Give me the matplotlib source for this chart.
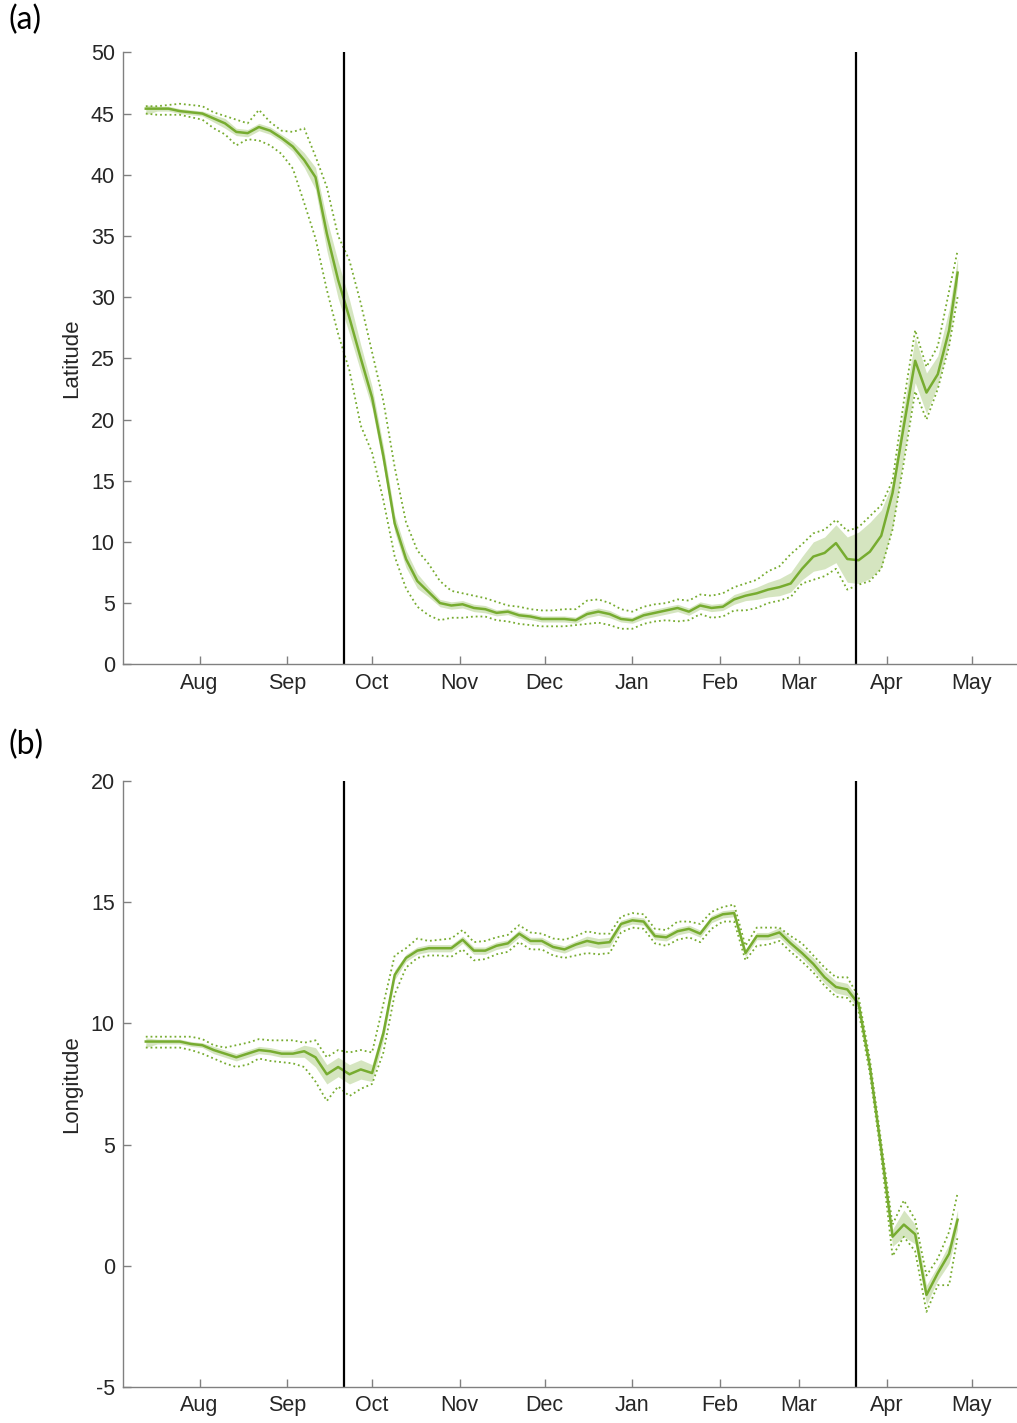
import numpy as np
import matplotlib
matplotlib.use("Agg")
import matplotlib.pyplot as plt
import matplotlib.dates as mdates

plt.rcParams['font.family'] = ['Liberation Sans', 'DejaVu Sans']
plt.rcParams['axes.unicode_minus'] = False

# days counted from 5 Jul 2017
days = [8, 12, 16, 20, 24, 28, 32, 36, 40, 44, 48, 52, 56, 60, 64, 68, 72, 76,
        80, 84, 88, 92, 96, 100, 104, 108, 112, 116, 120, 124, 128, 132, 136,
        140, 144, 148, 152, 156, 160, 164, 168, 172, 176, 180, 184, 188, 192,
        196, 200, 204, 208, 212, 216, 220, 224, 228, 232, 236, 240, 244, 248,
        252, 256, 260, 264, 268, 272, 276, 280, 284, 288, 292, 295]

# (a) latitude
lat_mean = [45.4, 45.4, 45.4, 45.2, 45.1, 45.0, 44.6, 44.2, 43.5, 43.4, 43.9, 43.6,
            43.0, 42.3, 41.2, 39.8, 35.2, 31.4, 28.3, 25.0, 21.8, 17.0, 11.5, 8.6,
            6.8, 5.9, 5.0, 4.8, 4.9, 4.6, 4.5, 4.2, 4.3, 4.0, 3.9, 3.7, 3.7, 3.7,
            3.6, 4.1, 4.3, 4.1, 3.7, 3.6, 4.0, 4.2, 4.4, 4.6, 4.3, 4.8, 4.6, 4.7,
            5.3, 5.6, 5.8, 6.1, 6.3, 6.6, 7.8, 8.8, 9.1, 9.9, 8.6, 8.5, 9.2, 10.5,
            14.0, 19.5, 24.8, 22.2, 23.7, 27.3, 32.0]
lat_hi = [45.6, 45.6, 45.7, 45.8, 45.7, 45.6, 45.1, 44.8, 44.5, 44.2, 45.3, 44.3,
          43.6, 43.5, 43.8, 41.5, 39.0, 35.0, 33.0, 29.5, 25.5, 21.5, 16.1, 11.6,
          9.3, 8.2, 6.8, 6.0, 5.8, 5.6, 5.4, 5.1, 4.8, 4.7, 4.5, 4.4, 4.4, 4.5,
          4.5, 5.2, 5.3, 5.0, 4.5, 4.3, 4.7, 4.9, 5.0, 5.3, 5.2, 5.7, 5.6, 5.8,
          6.3, 6.6, 6.9, 7.6, 8.0, 9.0, 9.8, 10.7, 11.0, 11.8, 10.9, 11.2, 12.1,
          13.0, 15.0, 21.5, 27.3, 24.3, 26.0, 30.5, 33.8]
lat_lo = [45.0, 44.9, 44.9, 44.9, 44.7, 44.5, 43.8, 43.3, 42.4, 42.9, 42.8, 42.4,
          41.7, 40.5, 37.7, 34.8, 30.6, 27.0, 24.0, 19.5, 17.3, 13.4, 8.8, 6.2,
          4.7, 4.0, 3.6, 3.8, 3.8, 3.9, 3.9, 3.6, 3.5, 3.3, 3.2, 3.1, 3.1, 3.1,
          3.2, 3.3, 3.4, 3.2, 2.9, 2.9, 3.3, 3.5, 3.6, 3.5, 3.6, 4.1, 3.8, 3.9,
          4.4, 4.4, 4.6, 5.0, 5.2, 5.5, 6.6, 6.9, 7.2, 7.8, 6.1, 6.5, 6.8, 7.8,
          11.0, 16.5, 22.3, 20.0, 22.5, 26.0, 30.0]
lat_band_lo = [44.9, 45.2, 45.2, 45.0, 44.9, 44.8, 44.3, 43.8, 43.2, 43.1, 43.6, 43.3,
               42.7, 41.9, 40.6, 38.8, 33.8, 29.9, 27.0, 23.9, 20.9, 16.2, 10.8, 7.9,
               6.2, 5.5, 4.7, 4.5, 4.6, 4.3, 4.2, 3.95, 4.05, 3.75, 3.65, 3.45, 3.45,
               3.45, 3.35, 3.8, 4.0, 3.8, 3.45, 3.35, 3.7, 3.9, 4.1, 4.3, 4.0, 4.5,
               4.3, 4.4, 4.9, 5.2, 5.3, 5.5, 5.6, 5.9, 6.9, 7.6, 7.8, 8.3, 6.7, 6.6,
               7.0, 7.9, 11.2, 17.0, 23.0, 20.5, 22.8, 26.3, 31.0]
lat_band_hi = [45.7, 45.6, 45.6, 45.4, 45.3, 45.2, 44.9, 44.6, 43.8, 43.7, 44.2, 43.9,
               43.3, 42.7, 41.8, 40.6, 36.4, 32.9, 29.8, 26.1, 22.7, 17.8, 12.2, 9.3,
               7.4, 6.3, 5.3, 5.1, 5.2, 4.9, 4.8, 4.45, 4.55, 4.25, 4.15, 3.95, 3.95,
               3.95, 3.85, 4.4, 4.6, 4.4, 3.95, 3.85, 4.3, 4.5, 4.7, 4.9, 4.6, 5.1,
               4.9, 5.0, 5.7, 6.0, 6.3, 6.7, 7.0, 7.5, 8.8, 10.0, 10.4, 11.4, 10.4,
               10.8, 11.6, 12.6, 14.8, 21.0, 26.7, 23.8, 25.2, 29.0, 33.2]

# (b) longitude
lon_mean = [9.25, 9.25, 9.25, 9.25, 9.15, 9.1, 8.9, 8.75, 8.6, 8.75, 8.9, 8.85,
            8.75, 8.75, 8.85, 8.6, 7.9, 8.2, 7.9, 8.1, 7.95, 9.6, 12.0, 12.7,
            13.0, 13.1, 13.1, 13.1, 13.45, 13.0, 13.0, 13.2, 13.3, 13.7, 13.4, 13.4,
            13.15, 13.05, 13.25, 13.4, 13.3, 13.35, 14.1, 14.25, 14.2, 13.6, 13.55,
            13.8, 13.9, 13.7, 14.3, 14.5, 14.55, 12.9, 13.6, 13.6, 13.75, 13.3, 12.9,
            12.45, 11.9, 11.5, 11.4, 10.8, 8.2, 4.8, 1.2, 1.7, 1.3, -1.2, -0.3, 0.5, 1.9]
lon_hi = [9.45, 9.45, 9.45, 9.45, 9.45, 9.35, 9.1, 9.0, 9.1, 9.2, 9.35, 9.3,
          9.3, 9.3, 9.2, 9.3, 8.6, 8.9, 8.8, 8.9, 8.8, 10.8, 12.8, 13.1,
          13.5, 13.4, 13.45, 13.5, 13.85, 13.35, 13.4, 13.55, 13.65, 14.05, 13.75,
          13.7, 13.5, 13.45, 13.6, 13.8, 13.7, 13.7, 14.4, 14.55, 14.5, 13.9, 13.85,
          14.2, 14.2, 14.1, 14.6, 14.8, 14.9, 13.2, 13.95, 13.95, 13.95, 13.6, 13.3,
          12.8, 12.3, 11.9, 11.9, 11.1, 8.5, 5.1, 1.7, 2.7, 1.9, -0.4, 0.3, 1.4, 3.0]
lon_lo = [9.0, 9.0, 9.0, 9.0, 8.9, 8.75, 8.55, 8.35, 8.2, 8.3, 8.55, 8.45,
          8.4, 8.35, 8.2, 7.6, 6.8, 7.4, 7.0, 7.3, 7.5, 8.8, 11.2, 12.3,
          12.7, 12.8, 12.8, 12.75, 13.05, 12.6, 12.65, 12.85, 12.95, 13.35, 13.05,
          13.05, 12.8, 12.7, 12.8, 12.9, 12.85, 12.9, 13.75, 13.95, 13.9, 13.3, 13.2,
          13.45, 13.55, 13.35, 13.9, 14.2, 14.2, 12.6, 13.2, 13.25, 13.4, 12.95, 12.55,
          12.1, 11.55, 11.1, 11.05, 10.5, 7.9, 4.5, 0.4, 1.2, 0.6, -1.9, -0.8, -0.8, 1.2]
lon_band_lo = [9.0, 9.15, 9.15, 9.15, 9.05, 9.0, 8.75, 8.6, 8.45, 8.6, 8.75, 8.7,
               8.6, 8.6, 8.6, 8.2, 7.5, 7.8, 7.5, 7.7, 7.6, 9.3, 11.8, 12.55,
               12.85, 12.95, 12.95, 12.95, 13.3, 12.85, 12.85, 13.05, 13.15, 13.55,
               13.25, 13.25, 13.0, 12.9, 13.1, 13.2, 13.1, 13.15, 13.95, 14.1, 14.05,
               13.45, 13.4, 13.65, 13.75, 13.55, 14.15, 14.35, 14.4, 12.75, 13.45,
               13.45, 13.55, 13.1, 12.7, 12.2, 11.65, 11.25, 11.15, 10.6, 8.05, 4.65,
               0.8, 1.2, 0.9, -1.6, -0.6, 0.1, 1.5]
lon_band_hi = [9.4, 9.35, 9.35, 9.35, 9.25, 9.2, 9.05, 8.9, 8.75, 8.9, 9.05, 9.0,
               8.9, 8.9, 9.1, 9.0, 8.3, 8.6, 8.3, 8.5, 8.3, 9.9, 12.2, 12.85,
               13.15, 13.25, 13.25, 13.25, 13.6, 13.15, 13.15, 13.35, 13.45, 13.85,
               13.55, 13.55, 13.3, 13.2, 13.4, 13.6, 13.5, 13.55, 14.25, 14.4, 14.35,
               13.75, 13.7, 13.95, 14.05, 13.85, 14.45, 14.65, 14.7, 13.05, 13.75,
               13.75, 13.95, 13.5, 13.1, 12.7, 12.15, 11.75, 11.65, 11.0, 8.35, 4.95,
               1.5, 2.3, 1.7, -0.8, 0.0, 0.9, 2.3]

start = np.datetime64('2017-07-05')
dates = start + np.array(days, dtype='timedelta64[D]')
equinoxes = [np.datetime64('2017-09-21'), np.datetime64('2018-03-21')]
xlim = (np.datetime64('2017-07-05'), np.datetime64('2018-05-17'))

green = '#77AC30'
grey = '#808080'
txt = '#262626'

fig = plt.figure(figsize=(10.17, 14.23), dpi=100)


def panel(rect, mean, lo, hi, blo, bhi, ylim, yticks, ylabel, tag, tag_y):
    ax = fig.add_axes(rect)
    ax.fill_between(dates, blo, bhi, color=green, alpha=0.3, lw=0)
    ax.plot(dates, hi, ':', color=green, lw=1.3)
    ax.plot(dates, lo, ':', color=green, lw=1.3)
    ax.plot(dates, mean, '-', color=green, lw=1.8)
    for e in equinoxes:
        ax.axvline(e, color='black', lw=1.6)
    ax.set_xlim(*xlim)
    ax.set_ylim(*ylim)
    ax.set_yticks(yticks)
    ax.xaxis.set_major_locator(mdates.MonthLocator(bymonth=[8, 9, 10, 11, 12, 1, 2, 3, 4, 5]))
    ax.xaxis.set_major_formatter(mdates.DateFormatter('%b'))
    for s in ['top', 'right']:
        ax.spines[s].set_visible(False)
    for s in ['left', 'bottom']:
        ax.spines[s].set_color(grey)
        ax.spines[s].set_linewidth(1.0)
    ax.tick_params(axis='both', direction='in', length=6, width=1, color=grey,
                   labelcolor=txt, labelsize=15.5)
    ax.tick_params(axis='x', pad=6)
    ax.tick_params(axis='y', pad=6)
    ax.set_ylabel(ylabel, fontsize=16, color=txt)
    ax.yaxis.set_label_coords(-0.046, 0.5)
    fig.text(0.008, tag_y, tag, fontsize=23, family=['Lato', 'DejaVu Sans'],
             ha='left', va='center')
    return ax


panel([0.1211, 0.5332, 0.8789, 0.4300], lat_mean, lat_lo, lat_hi,
      lat_band_lo, lat_band_hi, (0, 50), range(0, 51, 5), 'Latitude', '(a)', 0.986)
panel([0.1211, 0.0253, 0.8789, 0.4259], lon_mean, lon_lo, lon_hi,
      lon_band_lo, lon_band_hi, (-5, 20), range(-5, 21, 5), 'Longitude', '(b)', 0.4765)

fig.savefig('out.png', dpi=100)
